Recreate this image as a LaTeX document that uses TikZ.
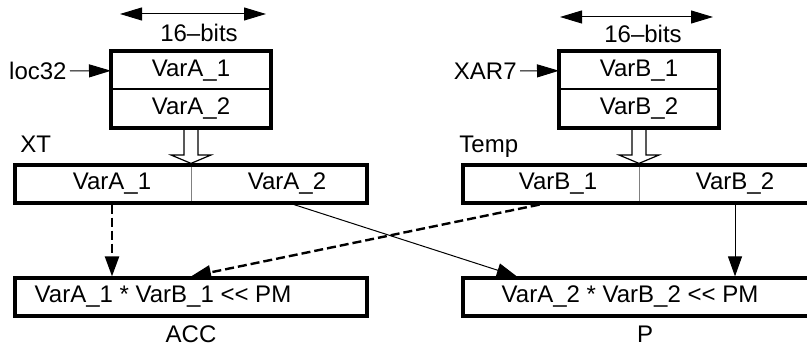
\documentclass[tikz,border=0pt]{standalone}
\usepackage{fontspec}
\setmainfont{Liberation Sans}
\usetikzlibrary{arrows.meta, calc}

\tikzset{
  cell/.style={draw, line width=1pt, minimum width=79pt, minimum height=18.75pt, inner sep=0pt},
  frame/.style={draw, line width=1.6pt},
  reg/.style={draw, line width=1.6pt, minimum width=176pt, minimum height=19pt, inner sep=0pt},
  divider/.style={draw=gray, line width=0.5pt, shorten <=1.6pt, shorten >=1.6pt},
  bigtip/.style={-{Triangle[length=11pt,width=6.5pt]}, line width=0.5pt},
  widthmark/.style={{Triangle[length=11pt,width=6.5pt]}-{Triangle[length=11pt,width=6.5pt]}, line width=0.5pt},
  smalltip/.style={-{Triangle[length=10pt,width=7pt]}},
  dashedflow/.style={smalltip, line width=1.2pt, dash pattern=on 4.5pt off 2pt},
  solidflow/.style={smalltip, line width=0.5pt},
  hollow/.style={line width=0.6pt},
}

\begin{document}
\begin{tikzpicture}[x=0.5pt, y=-0.5pt, font=\fontsize{12}{14}\selectfont]
\useasboundingbox (0,0) rectangle (807,346);
\clip (0,0) rectangle (807,346);

% memory words
\node[cell] (a1) at (191,70.75) {VarA\_1};
\node[cell] (a2) at (191,108.25) {VarA\_2};
\node[cell] (b1) at (639,70.75) {VarB\_1};
\node[cell] (b2) at (639,108.25) {VarB\_2};
\draw[frame] (a1.north west) rectangle (a2.south east);
\draw[frame] (b1.north west) rectangle (b2.south east);

% word width
\coordinate (wa1) at (120,14);
\coordinate (wa2) at (266,14);
\coordinate (wb1) at (560,17);
\coordinate (wb2) at (713,17);
\draw[widthmark] (wa1) -- (wa2);
\draw[widthmark] (wb1) -- (wb2);
\node (bitsa) at (199,33) {16–bits};
\node (bitsb) at (643,34) {16–bits};

% pointers
\node[anchor=east, inner sep=1.5pt] (loc) at (70,71) {loc32};
\node[anchor=east, inner sep=1.5pt] (xar) at (520,71) {XAR7};
\draw[bigtip] (loc.east) -- (a1.west);
\draw[bigtip] (xar.east) -- (b1.west);

% registers
\node[reg] (xt) at (191,184) {};
\node[reg] (tp) at (639,184) {};
\draw[divider] (xt.north) -- (xt.south);
\draw[divider] (tp.north) -- (tp.south);
\node (xt1) at (112,184) {VarA\_1};
\node (xt2) at (287,184) {VarA\_2};
\node (tp1) at (558,184) {VarB\_1};
\node (tp2) at (735,184) {VarB\_2};
\node[anchor=west, inner sep=0pt] (xtlbl) at (20,144) {XT};
\node[anchor=west, inner sep=0pt] (tplbl) at (459,147) {Temp};

% load arrows
\foreach \src/\dst in {a2/xt, b2/tp}
  \draw[hollow] ($(\src.south)+(-7,0)$) -- ($(\src.south)+(-7,27)$)
    -- ($(\src.south)+(-20,27)$) -- (\dst.north)
    -- ($(\src.south)+(20,27)$) -- ($(\src.south)+(7,27)$)
    -- ($(\src.south)+(7,0)$);

% results
\node[reg] (acc) at (191,297) {};
\node[reg] (p) at (639,297) {};
\node (accm) at (163,297) {VarA\_1 * VarB\_1 <{}< PM};
\node (pm) at (630,297) {VarA\_2 * VarB\_2 <{}< PM};
\node (acclbl) at (191,334) {ACC};
\node (plbl) at (645,334) {P};

% products
\draw[dashedflow] (xt1 |- xt.south) -- (xt1 |- acc.north);
\draw[dashedflow] ($(tp.south west)!0.22!(tp.south east)$) -- (acc.north);
\draw[solidflow] ($(xt.south west)!0.79!(xt.south east)$) -- ($(p.north west)!0.156!(p.north east)$);
\draw[solidflow] (tp2 |- tp.south) -- (tp2 |- p.north);
\end{tikzpicture}
\end{document}
